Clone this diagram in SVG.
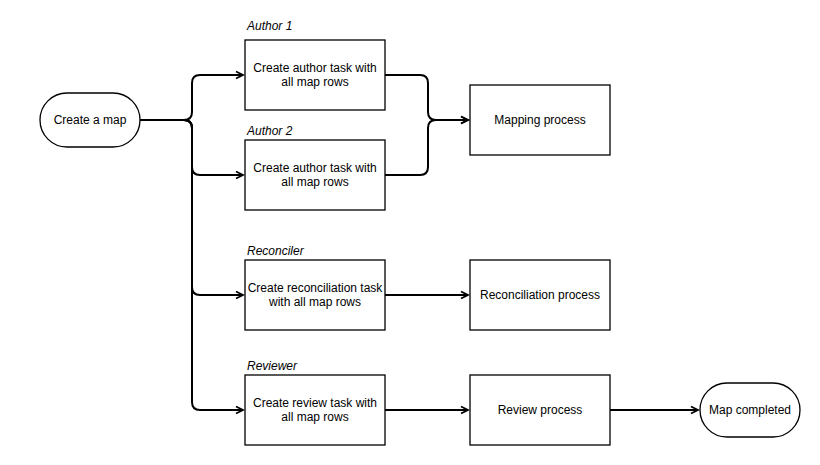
<svg xmlns="http://www.w3.org/2000/svg" width="820" height="465" viewBox="0 0 820 465">
<style>
.box{fill:#fff;stroke:#000;stroke-width:1.3}
.t{font-family:"Liberation Sans",Arial,sans-serif;font-size:12px;fill:#000;text-anchor:middle}
.lbl{font-family:"Liberation Sans",Arial,sans-serif;font-size:12px;font-style:italic;fill:#000}
.e{fill:none;stroke:#000;stroke-width:2}
</style>
<defs>
<marker id="arr" markerWidth="10" markerHeight="10" refX="8" refY="5" orient="auto" markerUnits="userSpaceOnUse">
<path d="M1,1.5 L8,5 L1,8.5" fill="none" stroke="#000" stroke-width="1.8"/>
</marker>
</defs>
<rect width="820" height="465" fill="#fff"/>
<g id="connectors">
<path class="e" d="M140,120 H184 Q192,120 192,112 V83 Q192,75 200,75 H243" marker-end="url(#arr)"/>
<path class="e" d="M140,120 H184 Q192,120 192,128 V167 Q192,175 200,175 H243" marker-end="url(#arr)"/>
<path class="e" d="M140,120 H184 Q192,120 192,128 V287 Q192,295 200,295 H243" marker-end="url(#arr)"/>
<path class="e" d="M140,120 H184 Q192,120 192,128 V402 Q192,410 200,410 H243" marker-end="url(#arr)"/>
<path class="e" d="M385,75 H420 Q428,75 428,83 V112 Q428,120 436,120 H468" marker-end="url(#arr)"/>
<path class="e" d="M385,175 H420 Q428,175 428,167 V128 Q428,120 436,120 H468" marker-end="url(#arr)"/>
<path class="e" d="M385,295 H468" marker-end="url(#arr)"/>
<path class="e" d="M385,410 H468" marker-end="url(#arr)"/>
<path class="e" d="M610,410 H698" marker-end="url(#arr)"/>
</g>
<g id="create-map">
<rect class="box" x="40" y="93" width="100" height="54" rx="27"/>
<text class="t" x="90" y="124">Create a map</text>
</g>
<g id="author1">
<text class="lbl" x="247" y="30">Author 1</text>
<rect class="box" x="245" y="40" width="140" height="70"/>
<text class="t" x="315" y="72">Create author task with</text>
<text class="t" x="315" y="86">all map rows</text>
</g>
<g id="author2">
<text class="lbl" x="247" y="135">Author 2</text>
<rect class="box" x="245" y="140" width="140" height="70"/>
<text class="t" x="315" y="172">Create author task with</text>
<text class="t" x="315" y="186">all map rows</text>
</g>
<g id="reconciler">
<text class="lbl" x="247" y="255">Reconciler</text>
<rect class="box" x="245" y="260" width="140" height="70"/>
<text class="t" x="315" y="292">Create reconciliation task</text>
<text class="t" x="315" y="306">with all map rows</text>
</g>
<g id="reviewer">
<text class="lbl" x="247" y="370">Reviewer</text>
<rect class="box" x="245" y="375" width="140" height="70"/>
<text class="t" x="315" y="407">Create review task with</text>
<text class="t" x="315" y="421">all map rows</text>
</g>
<g id="mapping">
<rect class="box" x="470" y="85" width="140" height="70"/>
<text class="t" x="540" y="124">Mapping process</text>
</g>
<g id="reconciliation">
<rect class="box" x="470" y="260" width="140" height="70"/>
<text class="t" x="540" y="299">Reconciliation process</text>
</g>
<g id="review">
<rect class="box" x="470" y="375" width="140" height="70"/>
<text class="t" x="540" y="414">Review process</text>
</g>
<g id="map-completed">
<rect class="box" x="700" y="383" width="100" height="54" rx="27"/>
<text class="t" x="750" y="414">Map completed</text>
</g>
</svg>
